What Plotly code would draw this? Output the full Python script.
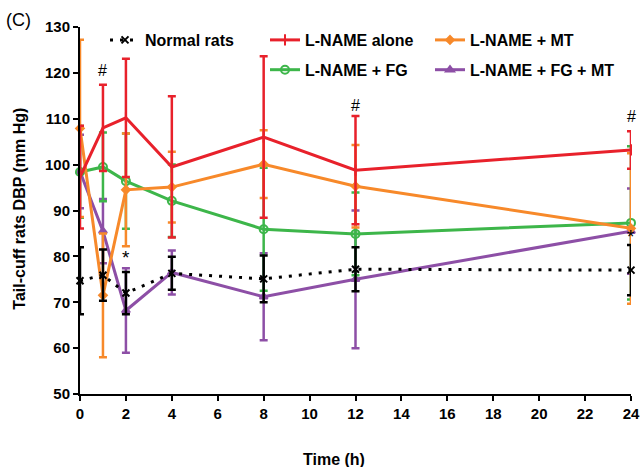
import plotly.graph_objects as go

# ---- data ----
time_h = [0, 1, 2, 4, 8, 12, 24]

normal_mean = [74.7, 75.9, 72.0, 76.3, 75.1, 77.2, 77.0]
normal_err = [7.3, 5.6, 4.6, 3.6, 5.1, 4.8, 5.5]

alone_mean = [97.3, 108.0, 110.2, 99.5, 106.0, 98.8, 103.2]
alone_err = [11.2, 9.4, 12.9, 15.4, 17.6, 11.8, 4.1]

mt_mean = [107.9, 71.5, 94.5, 95.1, 100.1, 95.3, 86.1]
mt_err = [19.3, 13.5, 12.3, 7.7, 7.4, 9.0, 16.4]

fg_mean = [98.4, 99.5, 96.4, 92.1, 85.9, 84.9, 87.3]
fg_err = [10.0, 7.5, 10.4, 7.9, 13.4, 9.0, 16.7]

fgmt_mean = [98.5, 85.5, 68.2, 76.5, 71.2, 75.0, 85.5]
fgmt_err = [8.0, 7.0, 9.2, 4.8, 9.5, 15.0, 9.3]

x_ticks = [0, 2, 4, 6, 8, 10, 12, 14, 16, 18, 20, 22, 24]
y_ticks = [50, 60, 70, 80, 90, 100, 110, 120, 130]

# significance marks (x, y, text)
sig_x = [1, 12, 24, 2, 24.25]
sig_y = [120.6, 112.8, 110.4, 79.8, 84.4]
sig_text = ["#", "#", "#", "*", "*"]

X_MAX = 24
Y_MIN, Y_MAX = 50, 130

RED = "#E8212B"
ORANGE = "#F7892A"
GREEN = "#3DB64A"
PURPLE = "#8D4FA6"
BLACK = "#000000"

FONT = "Liberation Sans, Arial, sans-serif"

W, H = 640, 467
ML, MR, MT, MB = 80, 9, 27, 73
PW, PH = W - ML - MR, H - MT - MB

fig = go.Figure()

def add_series(name, y, err, color, symbol, size, legend, rank, dash="solid", lw=3, mline=2):
    fig.add_trace(go.Scatter(
        x=time_h, y=y, name=name, mode="lines+markers",
        line=dict(color=color, width=lw, dash=dash),
        marker=dict(symbol=symbol, size=size, color=color,
                    line=dict(color=color, width=mline)),
        error_y=dict(type="data", array=err, visible=True,
                     color=color, thickness=2.5, width=4),
        cliponaxis=False, legend=legend, legendrank=rank,
        legendgroup=name,
    ))

add_series("L-NAME + FG + MT", fgmt_mean, fgmt_err, PURPLE, "triangle-up", 7, "legend3", 2)
add_series("L-NAME + FG", fg_mean, fg_err, GREEN, "circle-open", 8, "legend2", 2)
add_series("L-NAME + MT", mt_mean, mt_err, ORANGE, "diamond", 6, "legend3", 1)
add_series("L-NAME alone", alone_mean, alone_err, RED, "line-ns", 8, "legend2", 1)
add_series("Normal rats", normal_mean, normal_err, BLACK, "x-thin", 7, "legend", 1,
           dash="3px,7px", lw=3)

for sx, sy, st in zip(sig_x, sig_y, sig_text):
    size = 16 if st == "#" else 19
    if sx <= X_MAX:
        fig.add_annotation(x=sx, y=sy, text=st, showarrow=False,
                           font=dict(family=FONT, size=size, color="black"),
                           xref="x", yref="y")
    else:
        # beyond the axis range: place in paper space so it is not hidden
        fig.add_annotation(x=sx / X_MAX, y=(sy - Y_MIN) / (Y_MAX - Y_MIN),
                           text=st, showarrow=False,
                           font=dict(family=FONT, size=size, color="black"),
                           xref="paper", yref="paper")

# panel label
fig.add_annotation(x=(4 - ML) / PW, y=1 + (MT - 20) / PH, xref="paper", yref="paper",
                   text="(C)", showarrow=False, xanchor="left", yanchor="middle",
                   font=dict(family=FONT, size=18, color="black"))
# axis titles
fig.add_annotation(x=(20 - ML) / PW, y=0.505, xref="paper", yref="paper",
                   text="Tail-cuff rats DBP (mm Hg)", showarrow=False, textangle=-90,
                   xanchor="center", yanchor="middle",
                   font=dict(family=FONT, size=16, color="black", weight="bold"))
fig.add_annotation(x=(334 - ML) / PW, y=-(459 - (H - MB)) / PH, xref="paper", yref="paper",
                   text="Time (h)", showarrow=False,
                   xanchor="center", yanchor="middle",
                   font=dict(family=FONT, size=16, color="black", weight="bold"))

legend_common = dict(
    orientation="v", bgcolor="rgba(0,0,0,0)",
    font=dict(family=FONT, size=16, color="black", weight="bold"),
    xref="container", yref="container", xanchor="left", yanchor="top",
    tracegroupgap=6, itemwidth=30,
)

fig.update_layout(
    width=W, height=H,
    margin=dict(l=ML, r=MR, t=MT, b=MB, autoexpand=False),
    paper_bgcolor="white", plot_bgcolor="white",
    font=dict(family=FONT, size=15, color="black"),
    showlegend=True,
    legend=dict(x=105 / W, y=1 - 23 / H, **legend_common),
    legend2=dict(x=265 / W, y=1 - 23 / H, **legend_common),
    legend3=dict(x=430 / W, y=1 - 23 / H, **legend_common),
    xaxis=dict(
        range=[0, X_MAX], tickvals=x_ticks, ticktext=[str(v) for v in x_ticks],
        showgrid=False, zeroline=False, showline=True, linecolor="black", linewidth=2,
        ticks="outside", ticklen=5, tickwidth=2, tickcolor="black",
        tickfont=dict(family=FONT, size=15, color="black", weight="bold"),
    ),
    yaxis=dict(
        range=[Y_MIN, Y_MAX], tickvals=y_ticks, ticktext=[str(v) for v in y_ticks],
        showgrid=False, zeroline=False, showline=True, linecolor="black", linewidth=2,
        ticks="outside", ticklen=5, tickwidth=2, tickcolor="black",
        tickfont=dict(family=FONT, size=15, color="black", weight="bold"),
    ),
)

# remove the browser's default 8px page margin so the figure fills the window
fig.write_html("out.html",
               config={"displayModeBar": False},
               post_script="document.body.style.margin='0';document.body.style.overflow='hidden';")
